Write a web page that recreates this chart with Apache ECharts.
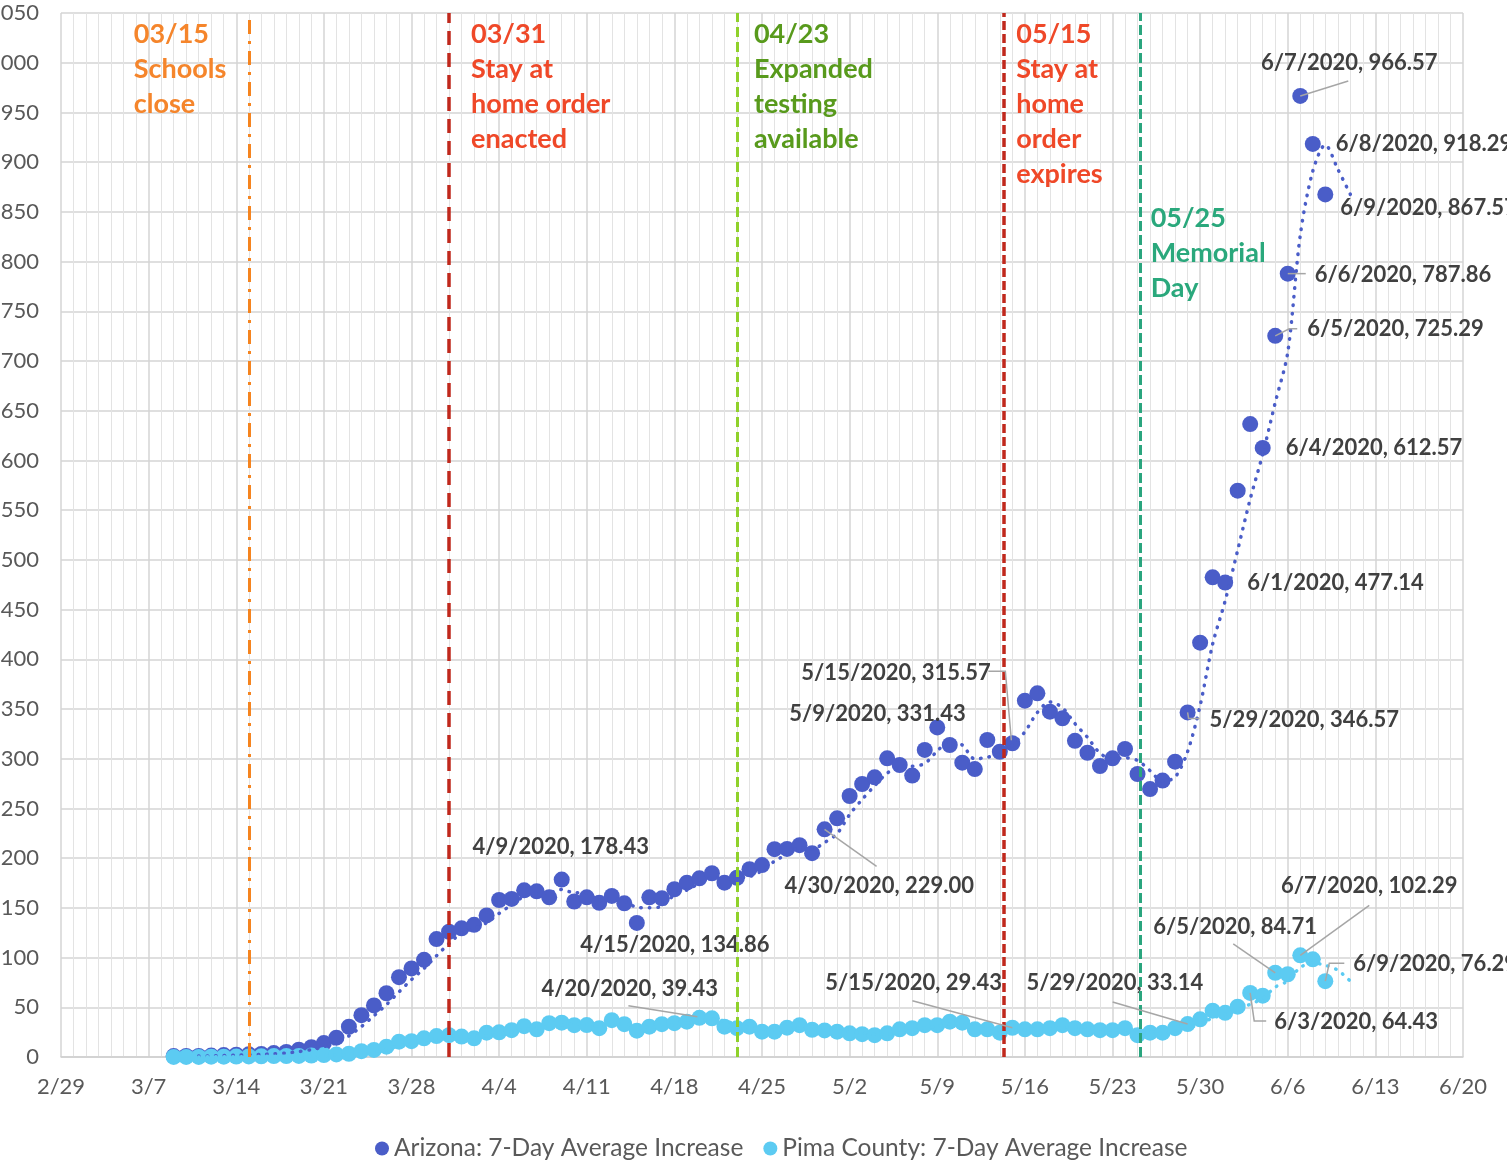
<!DOCTYPE html>
<html>
<head>
<meta charset="utf-8">
<title>Arizona / Pima County 7-Day Average Increase</title>
<script src="https://cdn.jsdelivr.net/npm/echarts@6/dist/echarts.min.js"></script>
<style>
  html, body { margin: 0; padding: 0; background: #fff; }
  #main { width: 1507px; height: 1160px; }
</style>
</head>
<body>
<div id="main"></div>
<script>
// dates (2020), one per day
var dates = [
  '3/9','3/10','3/11','3/12','3/13','3/14','3/15','3/16','3/17','3/18','3/19','3/20',
  '3/21','3/22','3/23','3/24','3/25','3/26','3/27','3/28','3/29','3/30','3/31',
  '4/1','4/2','4/3','4/4','4/5','4/6','4/7','4/8','4/9','4/10','4/11','4/12','4/13','4/14','4/15',
  '4/16','4/17','4/18','4/19','4/20','4/21','4/22','4/23','4/24','4/25','4/26','4/27','4/28','4/29','4/30',
  '5/1','5/2','5/3','5/4','5/5','5/6','5/7','5/8','5/9','5/10','5/11','5/12','5/13','5/14','5/15',
  '5/16','5/17','5/18','5/19','5/20','5/21','5/22','5/23','5/24','5/25','5/26','5/27','5/28','5/29','5/30','5/31',
  '6/1','6/2','6/3','6/4','6/5','6/6','6/7','6/8','6/9'
];

// Arizona: 7-day average increase
var arizona = [
  0.9, 1.0, 1.1, 1.4, 1.9, 2.3, 2.7, 3.0, 3.9, 5.1, 7.3, 9.9,
  14.0, 19.4, 30.4, 42.1, 51.9, 64.1, 80.3, 89.1, 97.7, 118.6, 126.0,
  129.4, 132.9, 142.4, 157.9, 159.0, 167.6, 166.6, 160.6, 178.43, 156.4, 160.6, 155.1, 162.0, 154.6, 134.86,
  160.6, 159.6, 168.7, 175.3, 179.7, 184.8, 175.3, 180.3, 188.8, 193.0, 209.0, 209.3, 213.0, 205.0, 229.00,
  240.0, 262.5, 274.6, 281.3, 300.4, 293.7, 283.0, 308.8, 331.43, 313.8, 296.0, 289.6, 318.8, 307.0, 315.57,
  358.4, 365.8, 347.3, 340.6, 318.0, 306.0, 292.7, 300.4, 309.8, 284.6, 269.5, 278.0, 297.0, 346.57, 416.7, 482.4,
  477.14, 569.6, 636.6, 612.57, 725.29, 787.86, 966.57, 918.29, 867.57
];

// Pima County: 7-day average increase
var pima = [
  0.1, 0.1, 0.1, 0.3, 0.3, 0.4, 0.6, 0.7, 0.9, 1.0, 1.1, 1.4,
  2.0, 2.6, 3.3, 5.9, 7.1, 10.4, 15.4, 15.9, 18.8, 21.0, 22.0,
  20.5, 18.8, 24.5, 24.8, 27.0, 31.0, 27.8, 34.0, 34.5, 32.0, 32.1, 29.0, 37.0, 33.0, 26.5,
  30.5, 33.0, 34.0, 35.5, 39.43, 38.9, 30.5, 29.0, 30.5, 25.5, 25.5, 29.5, 32.0, 27.4, 26.7,
  25.5, 23.8, 23.0, 22.0, 23.8, 27.8, 29.0, 32.0, 32.0, 35.5, 34.5, 27.8, 27.8, 24.5, 29.43,
  27.8, 27.8, 29.0, 32.0, 29.0, 27.8, 27.0, 27.0, 29.0, 22.0, 24.5, 24.5, 29.0, 33.14, 37.9, 46.6,
  44.4, 50.6, 64.43, 61.7, 84.71, 83.2, 102.29, 98.2, 76.29
];

// x tick labels run 2/29 .. 6/20, one per week
var tickStart = '2/29';
var tickEnd = '6/20';

// labelled points: date -> label offset from the dot (px) and leader line points (px, relative to dot)
var azLabels = {
  '4/9':  { dx: -1,   dy: -33, align: 'center' },
  '4/15': { dx: 38,   dy: 22,  align: 'center' },
  '4/30': { dx: -40,  dy: 57,  line: [[0, 0], [52, 37]] },
  '5/9':  { dx: -148, dy: -14 },
  '5/15': { dx: -211, dy: -70, line: [[-24, -72], [-7, -72], [-1, -3]] },
  '5/29': { dx: 22,   dy: 7,   line: [[0, 0], [1, 6], [12, 6]] },
  '6/1':  { dx: 22,   dy: 0 },
  '6/4':  { dx: 23,   dy: 0 },
  '6/5':  { dx: 32,   dy: -7,  line: [[0, 0], [14, -7], [22, -7]] },
  '6/6':  { dx: 27,   dy: 1,   line: [[0, 0], [18, 0]] },
  '6/7':  { dx: 49,   dy: -33, align: 'center', line: [[0, 0], [48, -15]] },
  '6/8':  { dx: 23,   dy: 0 },
  '6/9':  { dx: 15,   dy: 14 }
};
var pmLabels = {
  '4/20': { dx: -158, dy: -29, line: [[-71, -12], [-2, -1]] },
  '5/15': { dx: -187, dy: -45, line: [[-100, -27], [0, 0]] },
  '5/29': { dx: -161, dy: -41, line: [[-75, -22], [0, 0]] },
  '6/3':  { dx: 24,   dy: 29,  line: [[0, 0], [4, 28], [16, 28]] },
  '6/5':  { dx: -122, dy: -46, line: [[-42, -29], [0, 0]] },
  '6/7':  { dx: 69,   dy: -69, align: 'center', line: [[69, -50], [0, 0]] },
  '6/9':  { dx: 28,   dy: -17, line: [[0, 0], [4, -18], [19, -18]] }
};

// event lines (the original lines were placed by hand, shift = days off the date)
var events = [
  { date: '3/15', shift: 0,     text: ['03/15', 'Schools', 'close'],                    color: '#f5852b', line: '#f5841f', width: 3,   dash: [14, 7, 3, 7], tx: -115, ty: 17 },
  { date: '3/31', shift: 0,     text: ['03/31', 'Stay at', 'home order', 'enacted'],    color: '#ef4828', line: '#c0281c', width: 3.5, dash: [14, 8],       tx: 22,   ty: 17 },
  { date: '4/23', shift: 0,     text: ['04/23', 'Expanded', 'testing', 'available'],    color: '#589a1c', line: '#8fd12a', width: 3,   dash: [10, 5],       tx: 17,   ty: 17 },
  { date: '5/15', shift: -0.65, text: ['05/15', 'Stay at', 'home', 'order', 'expires'], color: '#ef4828', line: '#c0281c', width: 3.5, dash: [9, 4],        tx: 12,   ty: 17 },
  { date: '5/25', shift: 0.25,  text: ['05/25', 'Memorial', 'Day'],                     color: '#2aa87c', line: '#2aa57e', width: 3,   dash: [10, 4],       tx: 10,   ty: 201 }
];

var DAY = 864e5;
var ORIGIN = Date.UTC(2020, 1, 29);
function dayNum(md) {
  var p = md.split('/');
  return (Date.UTC(2020, +p[0] - 1, +p[1]) - ORIGIN) / DAY;
}
function dayLabel(v) {
  var d = new Date(ORIGIN + v * DAY);
  return (d.getUTCMonth() + 1) + '/' + d.getUTCDate();
}

function pointData(values, labels) {
  return values.map(function (v, i) {
    var item = { value: [dayNum(dates[i]), v] };
    if (labels[dates[i]]) item.label = { show: true };
    return item;
  });
}

// 3-period moving average trendline (Excel style: trailing window, runs over two empty days)
function movingAvg(values) {
  var out = [];
  for (var i = 2; i < values.length + 2; i++) {
    var sum = 0, cnt = 0;
    for (var j = i - 2; j <= i; j++) {
      if (j < values.length) { sum += values[j]; cnt++; }
    }
    out.push([dayNum(dates[0]) + i, sum / cnt]);
  }
  return out;
}

function layoutFor(table) {
  return function (p) {
    var o = table[dates[p.dataIndex]];
    if (!o) return {};
    var cx = p.rect.x + p.rect.width / 2;
    var cy = p.rect.y + p.rect.height / 2;
    return { x: cx + o.dx, y: cy + o.dy, align: o.align || 'left', verticalAlign: 'middle' };
  };
}

var FONT = 'Lato';
var AZ = '#4a5dc8';
var PM = '#5ccbf2';

var dataLabel = {
  show: false,
  fontFamily: FONT,
  fontWeight: 'bold',
  fontSize: 22,
  color: '#404040',
  formatter: function (p) {
    return dates[p.dataIndex] + '/2020, ' + p.value[1].toFixed(2);
  }
};

var myChart = echarts.init(document.getElementById('main'));

var option = {
  backgroundColor: '#fff',
  animation: false,
  grid: { left: 61, right: 44, top: 13, bottom: 103, outerBoundsMode: 'none' },
  legend: {
    data: ['Arizona: 7-Day Average Increase', 'Pima County: 7-Day Average Increase'],
    top: 1131,
    left: 370,
    icon: 'circle',
    itemWidth: 14,
    itemHeight: 14,
    itemGap: 20,
    textStyle: { fontFamily: FONT, fontSize: 24.5, color: '#595959' }
  },
  xAxis: {
    type: 'value',
    min: dayNum(tickStart),
    max: dayNum(tickEnd),
    interval: 7,
    axisLine: { show: true, lineStyle: { color: '#d0d0d0', width: 1.5 } },
    axisTick: { show: false },
    axisLabel: {
      fontFamily: FONT, fontSize: 22, color: '#595959', margin: 19,
      formatter: function (v) { return dayLabel(v); }
    },
    splitLine: { show: true, lineStyle: { color: '#d4d4d4', width: 1.5 } },
    minorTick: { show: false, splitNumber: 7 },
    minorSplitLine: { show: true, lineStyle: { color: '#e3e3e3', width: 1 } }
  },
  yAxis: {
    type: 'value',
    min: 0,
    max: 1050,
    interval: 50,
    axisLine: { show: false },
    axisTick: { show: false },
    axisLabel: { fontFamily: FONT, fontSize: 22, color: '#595959', margin: 22 },
    splitLine: { show: true, lineStyle: { color: '#d4d4d4', width: 1.5 } }
  },
  series: [
    {
      name: 'Arizona: 7-Day Average Increase',
      type: 'scatter',
      symbolSize: 16,
      itemStyle: { color: AZ, opacity: 1 },
      z: 2,
      data: pointData(arizona, azLabels),
      label: dataLabel,
      labelLine: { show: false },
      labelLayout: layoutFor(azLabels),
      markLine: {
        silent: true,
        symbol: ['none', 'none'],
        label: { show: false },
        data: events.map(function (e) {
          return {
            xAxis: dayNum(e.date) + e.shift,
            lineStyle: { color: e.line, width: e.width, type: e.dash, opacity: 1 }
          };
        })
      }
    },
    {
      name: 'Pima County: 7-Day Average Increase',
      type: 'scatter',
      symbolSize: 16,
      itemStyle: { color: PM, opacity: 1 },
      z: 3,
      data: pointData(pima, pmLabels),
      label: dataLabel,
      labelLine: { show: false },
      labelLayout: layoutFor(pmLabels)
    },
    {
      name: 'az-trend',
      type: 'line',
      showSymbol: false,
      smooth: 0.3,
      silent: true,
      z: 4,
      lineStyle: { color: AZ, width: 3.5, type: [0.5, 8], cap: 'round' },
      data: movingAvg(arizona)
    },
    {
      name: 'pima-trend',
      type: 'line',
      showSymbol: false,
      smooth: 0.3,
      silent: true,
      z: 4,
      lineStyle: { color: PM, width: 3.5, type: [0.5, 8], cap: 'round' },
      data: movingAvg(pima)
    }
  ]
};

myChart.setOption(option);

var graphics = [];

// leader lines from the labelled dots to their labels
function addLeaders(table, values) {
  dates.forEach(function (d, i) {
    var o = table[d];
    if (!o || !o.line) return;
    var c = myChart.convertToPixel({ gridIndex: 0 }, [dayNum(d), values[i]]);
    graphics.push({
      type: 'polyline',
      silent: true,
      z: 20,
      shape: { points: o.line.map(function (q) { return [c[0] + q[0], c[1] + q[1]]; }) },
      style: { stroke: '#a6a6a6', lineWidth: 1.5, fill: null }
    });
  });
}
addLeaders(azLabels, arizona);
addLeaders(pmLabels, pima);

// event annotations next to the vertical lines
events.forEach(function (e) {
  var px = myChart.convertToPixel({ gridIndex: 0 }, [dayNum(e.date) + e.shift, 0])[0];
  graphics.push({
    type: 'text',
    x: px + e.tx,
    y: e.ty,
    z: 10,
    silent: true,
    style: {
      text: e.text.join('\n'),
      fill: e.color,
      font: 'bold 27px ' + FONT,
      lineHeight: 35,
      verticalAlign: 'top'
    }
  });
});
myChart.setOption({ graphic: graphics });
</script>
</body>
</html>
